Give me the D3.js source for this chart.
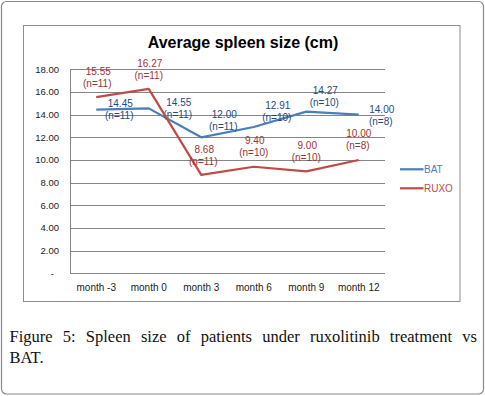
<!DOCTYPE html>
<html>
<head>
<meta charset="utf-8">
<script src="https://cdn.jsdelivr.net/npm/d3@7"></script>
<style>
    body { margin: 0; background: #fff; }
    svg { display: block; }
</style>
</head>
<body>
<svg id="chart" width="485" height="396"></svg>
<script>
/* ======================== DATA ========================= */
/* ======================================================= */

const months     = ["month -3", "month 0", "month 3", "month 6", "month 9", "month 12"];
const batValues  = [14.45, 14.55, 12.00, 12.91, 14.27, 14.00];
const batN       = [11, 11, 11, 10, 10, 8];
const ruxoValues = [15.55, 16.27, 8.68, 9.40, 9.00, 10.00];
const ruxoN      = [11, 11, 11, 10, 10, 8];
const yTicks     = [0, 2, 4, 6, 8, 10, 12, 14, 16, 18];

// hand-placed data label offsets (px from the point), as in the original sheet
const batLabelOffsets  = [[24, -6], [30, -6], [23, -23], [24, -21], [19, -21], [23, -5]];
const ruxoLabelOffsets = [[2, -26], [1, -25], [3, -25], [1, -26], [1, -26], [0, -26]];

/* ======================================================= */
/* ===================== END OF DATA ===================== */

const svg = d3.select("#chart");
const plot = { left: 70, right: 385, top: 69.3, bottom: 273.3 };

const x = d3.scalePoint()
            .domain(months)
            .range([plot.left, plot.right])
            .padding(0.5);

const y = d3.scaleLinear()
            .domain([0, 18])
            .range([plot.bottom, plot.top]);

const series = [
    { name: "BAT",  values: batValues,  n: batN,  offsets: batLabelOffsets,
      color: "#4A7EBB", labelColor: "#1F497D", legendY: 169.3 },
    { name: "RUXO", values: ruxoValues, n: ruxoN, offsets: ruxoLabelOffsets,
      color: "#BE4B48", labelColor: "#9B3532", legendY: 188.3 }
];

const labelFont = "'Liberation Sans', Arial, sans-serif";
const serifFont = "'Liberation Serif', 'Times New Roman', serif";

// outer figure frame
svg.append("rect")
   .attr("x", 1.5).attr("y", 1.5)
   .attr("width", 482).attr("height", 392.5)
   .attr("rx", 5)
   .attr("fill", "none")
   .attr("stroke", "#8a8a8a")
   .attr("stroke-width", 1.2);

// chart box
svg.append("rect")
   .attr("x", 23.5).attr("y", 25.5)
   .attr("width", 436.5).attr("height", 276)
   .attr("fill", "#fff")
   .attr("stroke", "#8c8c8c")
   .attr("stroke-width", 1);

svg.append("text")
   .attr("x", 243).attr("y", 47.5)
   .attr("text-anchor", "middle")
   .style("font-family", labelFont)
   .style("font-weight", "bold")
   .style("font-size", "16px")
   .attr("fill", "#000")
   .text("Average spleen size (cm)");

// gridlines
svg.append("g")
   .selectAll("line")
   .data(yTicks)
   .join("line")
   .attr("x1", plot.left).attr("x2", plot.right)
   .attr("y1", d => Math.round(y(d)) + 0.5)
   .attr("y2", d => Math.round(y(d)) + 0.5)
   .attr("stroke", "#868686")
   .attr("stroke-width", 1);

svg.append("line")
   .attr("x1", plot.left + 0.5).attr("x2", plot.left + 0.5)
   .attr("y1", Math.round(y(18)) + 0.5).attr("y2", Math.round(y(0)) + 0.5)
   .attr("stroke", "#868686");

// y tick labels
svg.append("g")
   .selectAll("text")
   .data(yTicks)
   .join("text")
   .attr("x", d => d === 0 ? 54 : 59)
   .attr("y", d => y(d) + 3.5)
   .attr("text-anchor", "end")
   .style("font-family", labelFont)
   .style("font-size", "9.5px")
   .attr("fill", "#222")
   .text(d => d === 0 ? "-" : d3.format(".2f")(d));

// x tick labels
svg.append("g")
   .selectAll("text")
   .data(months)
   .join("text")
   .attr("x", d => x(d))
   .attr("y", 291)
   .attr("text-anchor", "middle")
   .style("font-family", labelFont)
   .style("font-size", "10px")
   .attr("fill", "#222")
   .text(d => d);

const line = d3.line()
               .x((d, i) => x(months[i]))
               .y(d => y(d));

series.forEach(s => {
    svg.append("path")
       .datum(s.values)
       .attr("d", line)
       .attr("fill", "none")
       .attr("stroke", s.color)
       .attr("stroke-width", 2.2)
       .attr("stroke-linejoin", "round");

    const labels = svg.append("g")
                      .selectAll("text")
                      .data(s.values)
                      .join("text")
                      .attr("text-anchor", "middle")
                      .style("font-family", labelFont)
                      .style("font-size", "10px")
                      .attr("fill", s.labelColor);

    labels.append("tspan")
          .attr("x", (d, i) => x(months[i]) + s.offsets[i][0])
          .attr("y", (d, i) => y(d) + s.offsets[i][1] + 3.5)
          .text(d => d3.format(".2f")(d));

    labels.append("tspan")
          .attr("x", (d, i) => x(months[i]) + s.offsets[i][0] - 1)
          .attr("y", (d, i) => y(d) + s.offsets[i][1] + 15.5)
          .text((d, i) => "(n=" + s.n[i] + ")");

    // legend
    svg.append("line")
       .attr("x1", 400).attr("x2", 423.5)
       .attr("y1", s.legendY).attr("y2", s.legendY)
       .attr("stroke", s.color)
       .attr("stroke-width", 2.2);

    svg.append("text")
       .attr("x", 424).attr("y", s.legendY + 3.5)
       .style("font-family", labelFont)
       .style("font-size", "10px")
       .attr("fill", s.color)
       .text(s.name);
});

/* ======================= CAPTION ======================= */
/* ======================================================= */

function justifiedLine(words, left, right, baseline) {
    const g = svg.append("g");
    const nodes = words.map(w => g.append("text")
                                  .attr("y", baseline)
                                  .style("font-family", serifFont)
                                  .style("font-size", "16.5px")
                                  .attr("fill", "#111")
                                  .text(w));
    const widths = nodes.map(n => n.node().getComputedTextLength());
    const gap = (right - left - d3.sum(widths)) / (words.length - 1);
    let pos = left;
    nodes.forEach((n, i) => {
        n.attr("x", pos);
        pos += widths[i] + gap;
    });
}

justifiedLine(["Figure", "5:", "Spleen", "size", "of", "patients", "under", "ruxolitinib", "treatment", "vs"],
              9.5, 477, 342);

svg.append("text")
   .attr("x", 9.5).attr("y", 363)
   .style("font-family", serifFont)
   .style("font-size", "16.5px")
   .attr("fill", "#111")
   .text("BAT.");
</script>
</body>
</html>
